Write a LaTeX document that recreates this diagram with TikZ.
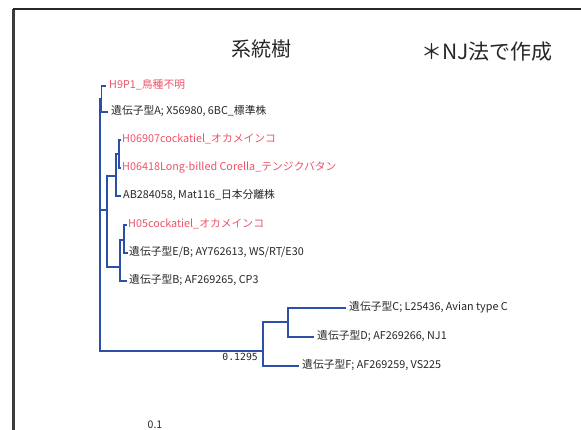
\documentclass[tikz,border=0pt]{standalone}
\usepackage{fontspec}
\setmainfont{Noto Sans CJK JP}
\newfontfamily\monofnt{DejaVu Sans Mono}
\definecolor{leafred}{RGB}{238,82,104}
\definecolor{treeblue}{RGB}{44,80,170}
\definecolor{framegray}{RGB}{60,60,60}
\begin{document}
\begin{tikzpicture}[x=1pt,y=-1pt,
  branch/.style={draw=treeblue,line width=1.3pt},
  leaf/.style={anchor=west,inner sep=0pt,font=\fontsize{10.8}{12}\selectfont,text height=1.5ex,text depth=0.4ex},
  redleaf/.style={leaf,text=leafred},
  blackleaf/.style={leaf,text=black!85}]
\useasboundingbox (0,0) rectangle (581,430);
% frame
\draw[framegray,line width=2.2pt] (13.5,9) -- (13.5,432);
\draw[black!85,line width=1.2pt] (13,9) -- (582,9);
% titles
\node[font=\fontsize{20}{24}\selectfont,text=black!85] (title) at (261,49) {系統樹};
\node[font=\fontsize{21}{25}\selectfont,text=black!85] (note) at (487,52) {＊NJ法で作成};
% leaves
\node[redleaf] (l1) at (109,86) {H9P1\_鳥種不明};
\node[blackleaf] (l2) at (111,112) {遺伝子型A; X56980, 6BC\_標準株};
\node[redleaf] (l3) at (122,140) {H06907cockatiel\_オカメインコ};
\node[redleaf] (l4) at (122,168) {H06418Long-billed Corella\_テンジクバタン};
\node[blackleaf] (l5) at (123,196) {AB284058, Mat116\_日本分離株};
\node[redleaf] (l6) at (128,225) {H05cockatiel\_オカメインコ};
\node[blackleaf] (l7) at (129,253) {遺伝子型E/B; AY762613, WS/RT/E30};
\node[blackleaf] (l8) at (129,281) {遺伝子型B; AF269265, CP3};
\node[blackleaf] (l9) at (349,308) {遺伝子型C; L25436, Avian type C};
\node[blackleaf] (l10) at (317,337) {遺伝子型D; AF269266, NJ1};
\node[blackleaf] (l11) at (302,366) {遺伝子型F; AF269259, VS225};
% leaf tips
\coordinate (t1) at (106,86);
\coordinate (t2) at (108,112);
\coordinate (t3) at (121,140);
\coordinate (t4) at (121,168);
\coordinate (t5) at (121,196);
\coordinate (t6) at (127,225);
\coordinate (t7) at (128,253);
\coordinate (t8) at (127,281);
\coordinate (t9) at (346,308);
\coordinate (t10) at (314,337);
\coordinate (t11) at (299,366);
% internal nodes
\coordinate (root) at (100,220);
\coordinate (nHA) at (101.5,99);
\coordinate (nX) at (107,210);
\coordinate (nC1) at (116,176);
\coordinate (nC1a) at (119,154);
\coordinate (nC2) at (120,267);
\coordinate (nC2a) at (124,240);
\coordinate (nCDF) at (263,351);
\coordinate (nCD) at (288,322);
% branches
\draw[branch] (root) |- (nHA);
\draw[branch] (root) |- (nX);
\draw[branch] (root) |- (nCDF);
\draw[branch] (nHA) |- (t1);
\draw[branch] (nHA) |- (t2);
\draw[branch] (nX) |- (nC1);
\draw[branch] (nX) |- (nC2);
\draw[branch] (nC1) |- (nC1a);
\draw[branch] (nC1) |- (t5);
\draw[branch] (nC1a) |- (t3);
\draw[branch] (nC1a) |- (t4);
\draw[branch] (nC2) |- (nC2a);
\draw[branch] (nC2) |- (t8);
\draw[branch] (nC2a) |- (t6);
\draw[branch] (nC2a) |- (t7);
\draw[branch] (nCDF) |- (nCD);
\draw[branch] (nCDF) |- (t11);
\draw[branch] (nCD) |- (t9);
\draw[branch] (nCD) |- (t10);
% branch length label
\node[anchor=north east,inner sep=0pt,font=\monofnt\fontsize{9.8}{11}\selectfont,text=black!85] (blen) at (258,353) {0.1295};
% scale label
\node[font=\fontsize{10.5}{12}\selectfont,text=black!85] (scale) at (155,425) {0.1};
\end{tikzpicture}
\end{document}
